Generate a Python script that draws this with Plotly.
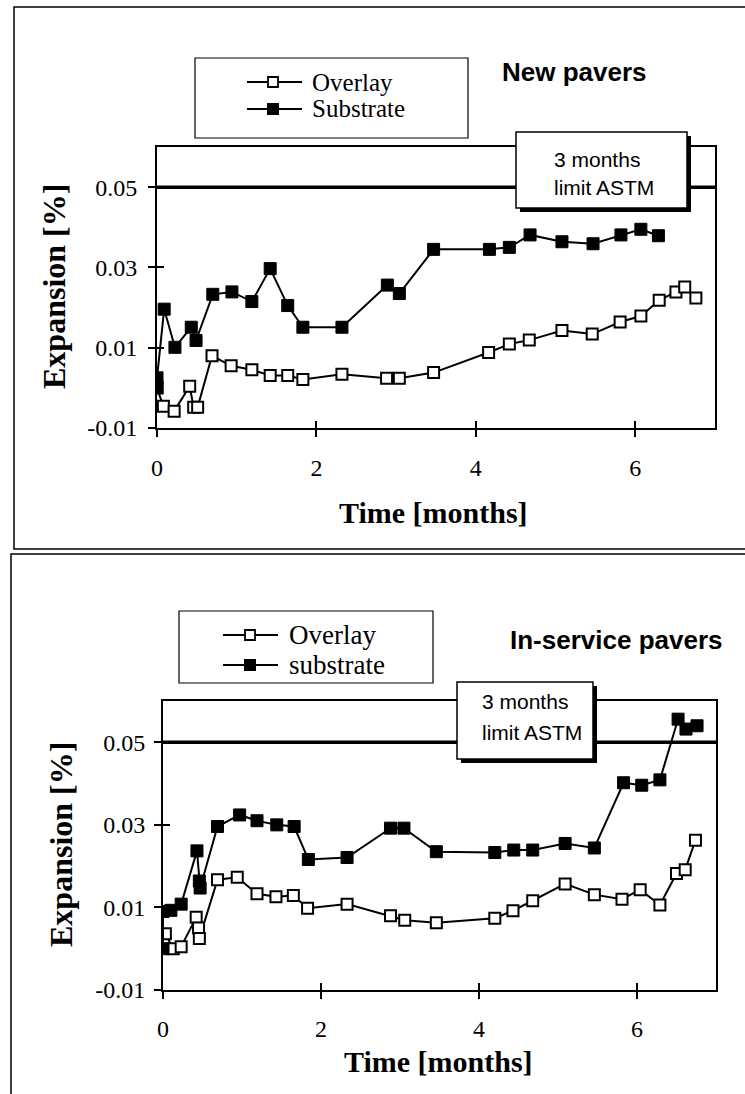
import plotly.graph_objects as go

# ---------------- data ----------------
# New pavers (top chart)
new_overlay_t = [0, 0.08, 0.215, 0.41, 0.46, 0.51, 0.69, 0.93, 1.19, 1.42, 1.64, 1.83, 2.32, 2.88, 3.04,
                 3.47, 4.16, 4.42, 4.67, 5.08, 5.46, 5.81, 6.07, 6.3, 6.51, 6.62, 6.76]
new_overlay_v = [0.0, -0.0046, -0.0058, 0.0004, -0.0048, -0.0048, 0.008, 0.0055, 0.0045, 0.0031, 0.0031,
                 0.0021, 0.0034, 0.0024, 0.0024, 0.0038, 0.0088, 0.0109, 0.0119, 0.0143, 0.0134, 0.0164,
                 0.0179, 0.0218, 0.0239, 0.0251, 0.0224]
new_substrate_t = [0, 0, 0.09, 0.225, 0.43, 0.49, 0.70, 0.94, 1.19, 1.42, 1.64, 1.83, 2.32, 2.89, 3.04,
                   3.47, 4.17, 4.42, 4.68, 5.08, 5.47, 5.82, 6.07, 6.29]
new_substrate_v = [0.0, 0.0025, 0.0196, 0.0101, 0.0151, 0.0118, 0.0233, 0.0239, 0.0215, 0.0297, 0.0205,
                   0.0151, 0.0151, 0.0256, 0.0235, 0.0345, 0.0345, 0.035, 0.0381, 0.0364, 0.0359, 0.0381,
                   0.0395, 0.0379]

# In-service pavers (bottom chart)
old_overlay_t = [0.03, 0.13, 0.23, 0.42, 0.45, 0.46, 0.69, 0.94, 1.19, 1.43, 1.65, 1.83, 2.33, 2.88, 3.06,
                 3.46, 4.2, 4.43, 4.68, 5.09, 5.46, 5.81, 6.04, 6.29, 6.5, 6.61, 6.74]
old_overlay_v = [0.0036, 0.0, 0.0005, 0.0076, 0.005, 0.0025, 0.0167, 0.0173, 0.0133, 0.0126, 0.0129,
                 0.0098, 0.0108, 0.008, 0.0069, 0.0063, 0.0074, 0.0092, 0.0116, 0.0157, 0.0131, 0.012,
                 0.0143, 0.0106, 0.0182, 0.0191, 0.0263]
old_substrate_t = [0, 0, 0.1, 0.23, 0.43, 0.46, 0.47, 0.69, 0.97, 1.19, 1.44, 1.66, 1.84, 2.33, 2.88, 3.05,
                   3.46, 4.2, 4.44, 4.68, 5.09, 5.46, 5.83, 6.06, 6.29, 6.52, 6.62, 6.76]
old_substrate_v = [0.0, 0.009, 0.0093, 0.0108, 0.0237, 0.0164, 0.0147, 0.0296, 0.0324, 0.031, 0.030,
                   0.0296, 0.0216, 0.0221, 0.0292, 0.0292, 0.0235, 0.0233, 0.0239, 0.0239, 0.0255, 0.0244,
                   0.0402, 0.0396, 0.0409, 0.0556, 0.0532, 0.054]

LIMIT = 0.05
x_ticks = [0, 2, 4, 6]
x_ticktext = ["0", "2", "4", "6"]
y_ticks = [-0.01, 0.01, 0.03, 0.05]
y_ticktext = ["-0.01", "0.01", "0.03", "0.05"]
x_range = [0, 7]
y_range = [-0.01, 0.06]

# ---------------- layout helpers ----------------
W, H = 745, 1094
SERIF = "Liberation Serif"
SANS = "Liberation Sans"


def px(x):
    return x / W


def py(y):
    return 1 - y / H


fig = go.Figure()

line_style = dict(color="black", width=2)
hollow = dict(symbol="square", size=11, color="white", line=dict(color="black", width=2))
filled = dict(symbol="square", size=12, color="black", line=dict(color="black", width=1))

for xa, ya, t_o, v_o, t_s, v_s in [
    ("x", "y", new_overlay_t, new_overlay_v, new_substrate_t, new_substrate_v),
    ("x2", "y2", old_overlay_t, old_overlay_v, old_substrate_t, old_substrate_v),
]:
    fig.add_trace(go.Scatter(x=t_o, y=v_o, mode="lines+markers", line=line_style, marker=hollow,
                             xaxis=xa, yaxis=ya, showlegend=False, name="Overlay"))
    fig.add_trace(go.Scatter(x=t_s, y=v_s, mode="lines+markers", line=line_style, marker=filled,
                             xaxis=xa, yaxis=ya, showlegend=False, name="Substrate"))

# empty traces to activate the overlay axes (inside half of crossing ticks)
fig.add_trace(go.Scatter(x=[], y=[], xaxis="x3", yaxis="y3", showlegend=False, hoverinfo="skip"))
fig.add_trace(go.Scatter(x=[], y=[], xaxis="x4", yaxis="y4", showlegend=False, hoverinfo="skip"))

tickfont = dict(family=SERIF, size=24, color="black")


def main_x(domain, anchor, standoff):
    return dict(domain=domain, anchor=anchor, range=x_range, tickmode="array", tickvals=x_ticks,
                ticktext=x_ticktext, ticks="outside", ticklen=7, tickwidth=1.5, tickcolor="black",
                showline=True, linecolor="black", linewidth=2, mirror=True, showgrid=False,
                zeroline=False, tickfont=tickfont, ticklabelstandoff=standoff, fixedrange=True)


def main_y(domain, anchor, standoff):
    return dict(domain=domain, anchor=anchor, range=y_range, tickmode="array", tickvals=y_ticks,
                ticktext=y_ticktext, ticks="outside", ticklen=7, tickwidth=1.5, tickcolor="black",
                showline=True, linecolor="black", linewidth=2, mirror=True, showgrid=False,
                zeroline=False, tickfont=tickfont, ticklabelstandoff=standoff, fixedrange=True)


def over_x(over, anchor):
    return dict(overlaying=over, anchor=anchor, range=x_range, tickmode="array", tickvals=x_ticks,
                ticks="inside", ticklen=7, tickwidth=1.5, tickcolor="black", showticklabels=False,
                showline=False, showgrid=False, zeroline=False, fixedrange=True)


def over_y(over, anchor):
    return dict(overlaying=over, anchor=anchor, range=y_range, tickmode="array", tickvals=y_ticks,
                ticks="inside", ticklen=7, tickwidth=1.5, tickcolor="black", showticklabels=False,
                showline=False, showgrid=False, zeroline=False, fixedrange=True)


top_xd = [px(157), px(715)]
top_yd = [py(428), py(147)]
bot_xd = [px(163), px(716)]
bot_yd = [py(990), py(701)]

fig.update_layout(
    width=W, height=H, margin=dict(l=0, r=0, t=0, b=0, autoexpand=False),
    paper_bgcolor="white", plot_bgcolor="white", showlegend=False,
    font=dict(family=SERIF, color="black"),
    xaxis=main_x(top_xd, "y", 10), yaxis=main_y(top_yd, "x", 6),
    xaxis2=main_x(bot_xd, "y2", 9), yaxis2=main_y(bot_yd, "x2", 4),
    xaxis3=over_x("x", "y"), yaxis3=over_y("y", "x"),
    xaxis4=over_x("x2", "y2"), yaxis4=over_y("y2", "x2"),
)

shapes = []
annots = []


def rect(x0, y0, x1, y1, fill="rgba(0,0,0,0)", lw=1.5, lc="black"):
    shapes.append(dict(type="rect", xref="paper", yref="paper", x0=px(x0), x1=px(x1),
                       y0=py(y1), y1=py(y0), fillcolor=fill, line=dict(color=lc, width=lw),
                       layer="above"))


def text(s, x, y, size, family, xanchor="left", bold=False, angle=0):
    annots.append(dict(text=("<b>%s</b>" % s) if bold else s, xref="paper", yref="paper",
                       x=px(x), y=py(y), xanchor=xanchor, yanchor="middle", showarrow=False,
                       textangle=angle, font=dict(family=family, size=size, color="black")))


# outer panel frames
rect(14, 7, 770, 549, lw=1.5)
rect(11, 554, 770, 1110, lw=1.5)

# limit lines at 0.05
for xr, yr in [("x domain", "y"), ("x2 domain", "y2")]:
    shapes.append(dict(type="line", xref=xr, yref=yr, x0=0, x1=1, y0=LIMIT, y1=LIMIT,
                       line=dict(color="black", width=3.5), layer="above"))

# ASTM boxes with shadow
for (bx0, by0, bx1, by1, tx, ty1, ty2) in [(516, 132, 687, 208, 552, 160, 188),
                                          (457, 682, 593, 759, 480, 701, 732)]:
    rect(bx0 + 4, by0 + 4, bx1 + 4, by1 + 4, fill="black", lw=0)
    rect(bx0, by0, bx1, by1, fill="white", lw=1.5)
    text("3 months", tx, ty1, 21, SANS)
    text("limit ASTM", tx, ty2, 21, SANS)

# manual legends
for (lx0, ly0, lx1, ly1, sx0, sx1, mx, r1, r2, tx, lab2, fs) in [
    (195, 58, 468, 138, 247, 302, 273, 82, 109, 310, "Substrate", 25),
    (179, 611, 433, 683, 223, 278, 250, 635, 665, 287, "substrate", 27),
]:
    rect(lx0, ly0, lx1, ly1, fill="white", lw=1.2)
    for ry in (r1, r2):
        shapes.append(dict(type="line", xref="paper", yref="paper", x0=px(sx0), x1=px(sx1),
                           y0=py(ry), y1=py(ry), line=dict(color="black", width=1.8), layer="above"))
    rect(mx - 5, r1 - 5, mx + 5, r1 + 5, fill="white", lw=1.8)
    rect(mx - 6, r2 - 6, mx + 6, r2 + 6, fill="black", lw=0)
    text("Overlay", tx, r1, fs, SERIF)
    text(lab2, tx, r2, fs, SERIF)

# titles
text("New pavers", 500, 72, 26, SANS, bold=True)
text("In-service pavers", 508, 640, 26, SANS, bold=True)
text("Time [months]", 434, 513, 30, SERIF, xanchor="center", bold=True)
text("Time [months]", 439, 1061, 30, SERIF, xanchor="center", bold=True)
text("Expansion [%]", 54, 287, 32, SERIF, xanchor="center", bold=True, angle=-90)
text("Expansion [%]", 61, 845, 32, SERIF, xanchor="center", bold=True, angle=-90)

fig.update_layout(shapes=shapes, annotations=annots)
fig.write_html("out.html", config={"displayModeBar": False},
               post_script="document.body.style.margin='0';")
